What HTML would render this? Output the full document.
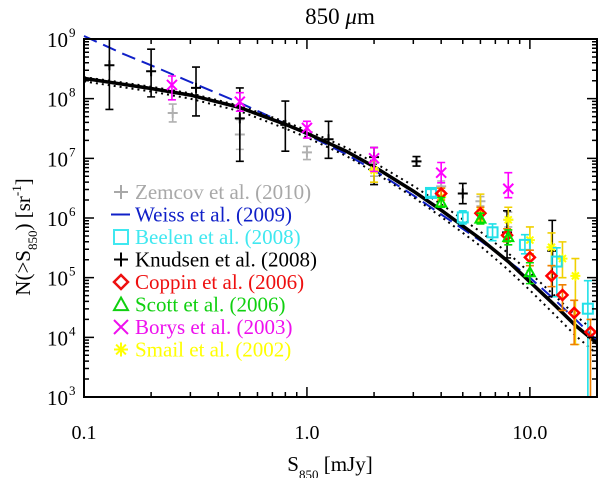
<!DOCTYPE html>
<html><head><meta charset="utf-8"><style>
html,body{margin:0;padding:0;background:#fff;}
svg, svg text{font-family:"Liberation Serif","Times New Roman","DejaVu Serif","Noto Serif CJK SC",serif;}
</style></head><body>
<svg id="chart" width="600" height="478" viewBox="0 0 600 478">
<text x="340" y="24" font-size="23" text-anchor="middle">850 <tspan font-style="italic">μ</tspan>m</text>
<text x="330" y="471" font-size="21" text-anchor="middle">S<tspan font-size="13" dy="8">850</tspan><tspan dy="-8"> [mJy]</tspan></text>
<text transform="translate(30,237) rotate(-90)" font-size="21" text-anchor="middle">N(&gt;S<tspan font-size="13" dy="7">850</tspan><tspan dy="-7">) [sr</tspan><tspan font-size="13" dy="-9">-1</tspan><tspan dy="9">]</tspan></text>
<g id="curves"></g>
<g id="points"></g>
<g id="axes"></g>
<g id="legend"></g>
</svg>
<script>
// ---- data ----
const modelS = [0.1,0.15,0.2,0.3,0.5,0.8,1,1.5,2,3,4,6,8,10,13,16,20];
const solidLog = [8.34,8.24,8.17,8.06,7.85,7.57,7.42,7.12,6.86,6.45,6.13,5.65,5.27,4.93,4.53,4.2,3.9];
const dotUpLog = [8.36,8.27,8.2,8.09,7.88,7.61,7.47,7.18,6.93,6.54,6.23,5.77,5.41,5.08,4.69,4.37,4.07];
const dotLoLog = [8.29,8.19,8.12,8.0,7.79,7.5,7.35,7.04,6.77,6.35,6.02,5.53,5.13,4.79,4.37,4.03,3.72];
const weissLog = [9.05,8.75,8.56,8.28,7.93,7.58,7.40,7.07,6.80,6.38,6.06,5.62,5.28,5.0,4.62,4.3,3.95];
// each point: [S, logN, logLow, logHigh]
const zemcov = [[0.25,7.76,7.61,7.91],[0.5,7.40,7.15,7.65],[1.0,7.1,6.98,7.2],[2.0,6.82,6.7,6.92],[4.0,6.53,6.45,6.62],[6.0,6.28,6.2,6.36],[8.0,5.97,5.85,6.1]];
const beelen = [[3.6,6.42,6.36,6.48],[5.0,6.01,5.9,6.12],[6.8,5.76,5.62,5.9],[9.5,5.55,5.4,5.72],[13.2,5.27,4.68,5.5],[18.2,4.48,3.0,4.95]];
const knudsen = [[0.13,8.56,7.82,9.2],[0.2,8.46,8.03,8.83],[0.318,8.18,7.71,8.53],[0.5,7.67,6.95,8.18],[0.8,7.56,7.12,7.96],[1.25,7.32,7.0,7.62],[2.0,7.02,6.56,7.18],[3.1,6.95,6.87,7.03],[5.0,6.41,6.24,6.58],[7.9,5.76,5.33,6.12],[12.6,5.45,4.68,5.96]];
const coppin = [[4.0,6.41,6.3,6.5],[6.0,6.08,5.98,6.18],[7.9,5.71,5.6,5.82],[10,5.34,5.2,5.46],[12.5,5.03,4.85,5.2],[14,4.71,4.45,4.88],[15.8,4.41,3.88,4.62],[18.7,4.09,3.0,4.3]];
const scott = [[4.0,6.26,6.18,6.34],[6.0,5.99,5.9,6.08],[8.0,5.68,5.55,5.8],[10,5.09,4.9,5.25]];
const borys = [[0.248,8.23,7.98,8.38],[0.5,7.95,7.79,8.1],[1.0,7.51,7.34,7.62],[2.0,7.0,6.78,7.18],[4.0,6.76,6.59,6.93],[8.0,6.49,6.34,6.76]];
const smail = [[2.0,6.8,6.6,6.95],[4.0,6.35,6.2,6.5],[6.0,6.1,5.95,6.4],[8.0,5.97,5.8,6.18],[10,5.63,5.4,5.85],[12.5,5.51,5.2,5.75],[14,5.32,5.0,5.6],[16,5.03,3.88,5.32]];
const xTickLabels = ["0.1","1.0","10.0"];
const yTickExps = [3,4,5,6,7,8,9];

// ---- axes functions ----
const L=84,R=597,T=39,B=397;
const xMin=-1, xMax=Math.log10(20);
const X = s => L + (Math.log10(s)-xMin)/(xMax-xMin)*(R-L);
const Y = lg => B - (lg-3)/6*(B-T);
const NS="http://www.w3.org/2000/svg";
function mk(tag, attrs, parent){const e=document.createElementNS(NS,tag);for(const k in attrs)e.setAttribute(k,attrs[k]);parent.appendChild(e);return e;}
const curves=document.getElementById('curves'), pts=document.getElementById('points'), axes=document.getElementById('axes'), leg=document.getElementById('legend');

function pathFrom(S,Lg){return S.map((s,i)=>(i?'L':'M')+X(s).toFixed(1)+','+Y(Lg[i]).toFixed(1)).join('');}
let p;
p=mk('path',{d:pathFrom(modelS,weissLog),fill:'none',stroke:'#1020c8','stroke-width':2,'stroke-dasharray':'14,7'},curves);


p=mk('path',{d:pathFrom(modelS,dotUpLog),fill:'none',stroke:'#000','stroke-width':2,'stroke-dasharray':'2,4'},curves);


p=mk('path',{d:pathFrom(modelS,dotLoLog),fill:'none',stroke:'#000','stroke-width':2,'stroke-dasharray':'2,4'},curves);


p=mk('path',{d:pathFrom(modelS,solidLog),fill:'none',stroke:'#000','stroke-width':3.5},curves);



function marker(type,x,y,c,g,sz){
  const s=sz||5;
  if(type==='plus'){mk('path',{d:`M${x-s},${y}H${x+s}M${x},${y-s}V${y+s}`,stroke:c,'stroke-width':2,fill:'none'},g);}
  else if(type==='square'){mk('rect',{x:x-s,y:y-s,width:2*s,height:2*s,stroke:c,'stroke-width':2,fill:'none'},g);}
  else if(type==='diamond'){mk('path',{d:`M${x},${y-s}L${x+s},${y}L${x},${y+s}L${x-s},${y}Z`,stroke:c,'stroke-width':2.5,fill:'none'},g);}
  else if(type==='tri'){mk('path',{d:`M${x},${y-s}L${x+s},${y+s*0.8}L${x-s},${y+s*0.8}Z`,stroke:c,'stroke-width':2,fill:'none'},g);}
  else if(type==='x'){mk('path',{d:`M${x-s},${y-s}L${x+s},${y+s}M${x-s},${y+s}L${x+s},${y-s}`,stroke:c,'stroke-width':2,fill:'none'},g);}
  else if(type==='star'){mk('path',{d:`M${x-s},${y}H${x+s}M${x},${y-s}V${y+s}M${x-s*0.7},${y-s*0.7}L${x+s*0.7},${y+s*0.7}M${x-s*0.7},${y+s*0.7}L${x+s*0.7},${y-s*0.7}`,stroke:c,'stroke-width':2,fill:'none'},g);}
}
function series(name,data,type,color,errColor){
  const g=mk('g',{},pts);
  
  
  data.forEach(d=>{
    const x=X(d[0]),y=Y(d[1]),y1=Math.min(B,Y(d[2])),y2=Y(d[3]);
    const yt=Math.max(T,y2);
    mk('path',{d:`M${x},${y1}V${yt}M${x-4},${y1}H${x+4}M${x-4},${yt}H${x+4}`,stroke:errColor||color,'stroke-width':1.6,fill:'none'},g);
    marker(type,x,y,color,g);
  });
}
series('zemcov',zemcov,'plus','#b0b0b0');
series('knudsen',knudsen,'plus','#000');
series('smail',smail,'star','#ffff00','#f0d000');
series('beelen',beelen,'square','#22e0e8');
series('coppin',coppin,'diamond','#ff0000','#f08000');
series('scott',scott,'tri','#00e000');
series('borys',borys,'x','#ff00ff');

// axes box & ticks
mk('rect',{x:L,y:T,width:R-L,height:B-T,fill:'none',stroke:'#000','stroke-width':2},axes);
let tk='';
for(let e=-1;e<=1;e++){for(let m=1;m<=9;m++){const s=m*Math.pow(10,e);if(s>20)break;const x=X(s);const len=m===1?10:5;tk+=`M${x},${B}V${B-len}M${x},${T}V${T+len}`;}}
for(let e=3;e<9;e++){for(let m=1;m<=9;m++){const y=Y(e+Math.log10(m));const len=m===1?10:5;tk+=`M${L},${y}H${L+len}M${R},${y}H${R-len}`;}}
tk+=`M${L},${T}H${L+10}M${R},${T}H${R-10}`;
mk('path',{d:tk,stroke:'#000','stroke-width':1.5,fill:'none'},axes);
xTickLabels.forEach((t,i)=>{const el=mk('text',{x:X(Math.pow(10,i-1)),y:439,'font-size':20,'text-anchor':'middle'},axes);el.textContent=t;

});
yTickExps.forEach(e=>{const y=Y(e);const el=mk('text',{x:68,y:y+8,'font-size':21,'text-anchor':'end'},axes);el.textContent='10';


const sp=mk('text',{x:69,y:y-2,'font-size':13},axes);sp.textContent=String(e);

});

// legend
const legItems=[['Zemcov et al. (2010)','#a8a8a8','plus'],['Weiss et al. (2009)','#1020c8','line'],['Beelen et al. (2008)','#40e8f0','square'],['Knudsen et al. (2008)','#000','plus'],['Coppin et al. (2006)','#ee1010','diamond'],['Scott et al. (2006)','#10d010','tri'],['Borys et al. (2003)','#ee10ee','x'],['Smail et al. (2002)','#ffff00','star']];
legItems.forEach((it,i)=>{
  const y=192+i*22.5;
  const g=mk('g',{},leg);
  
  
  if(it[2]==='line')mk('path',{d:`M111,${y}H130`,stroke:it[1],'stroke-width':2},g);
  else marker(it[2],121,y,it[1],g,7);
  const t=mk('text',{x:135,y:y+7,'font-size':21,fill:it[1]},g);t.textContent=it[0];
});
</script>
</body></html>
